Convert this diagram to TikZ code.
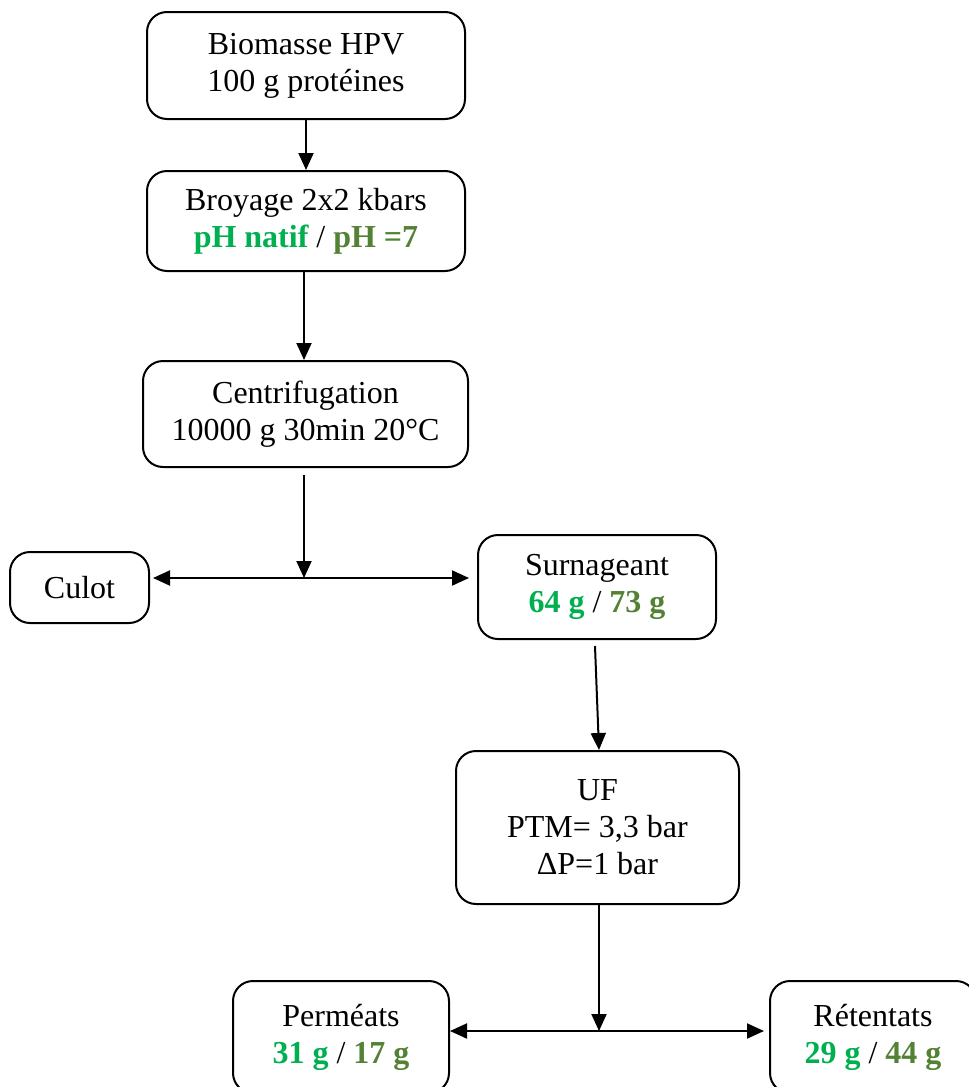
\documentclass[tikz,border=0pt]{standalone}
\usepackage{fontspec}
\setmainfont{Liberation Serif}
\usetikzlibrary{arrows.meta,calc}
\definecolor{gA}{HTML}{00B050}
\definecolor{gB}{HTML}{548235}
\newcommand{\ga}[1]{{\bfseries\color{gA}#1}}
\newcommand{\gb}[1]{{\bfseries\color{gB}#1}}
\begin{document}
\begin{tikzpicture}[x=1pt,y=-1pt,
 box/.style={draw, line width=2pt, rounded corners=20pt, align=center, inner sep=0pt, font=\fontsize{32}{37}\selectfont},
 arr/.style={line width=2pt, -{Triangle[length=17pt,width=15pt]}},
 ln/.style={line width=2pt}]
\useasboundingbox (0,0) rectangle (969,1087);
\clip (0,0) rectangle (969,1087);
\node[box, minimum width=318pt, minimum height=107pt] (bio) at (306,65.5) {Biomasse HPV\\100 g protéines};
\node[box, minimum width=318pt, minimum height=100pt] (broy) at (306,221) {Broyage 2x2 kbars\\\ga{pH natif} / \gb{pH =7}};
\node[box, minimum width=325pt, minimum height=106pt] (cent) at (305.5,414) {Centrifugation\\10000 g 30min 20°C};
\node[box, minimum width=139pt, minimum height=71pt] (culot) at (79.5,587.5) {Culot};
\node[box, minimum width=238pt, minimum height=104pt] (surn) at (597,587) {Surnageant\\\ga{64 g} / \gb{73 g}};
\node[box, minimum width=283pt, minimum height=153pt] (uf) at (597.5,827.5) {UF\\PTM= 3,3 bar\\ΔP=1 bar};
\node[box, minimum width=216pt, minimum height=112pt] (perm) at (341,1037) {Perméats\\\ga{31 g} / \gb{17 g}};
\node[box, minimum width=206pt, minimum height=112pt] (ret) at (873,1037) {Rétentats\\\ga{29 g} / \gb{44 g}};
\coordinate (j1) at (304,578);
\coordinate (j2) at (599,1031);
\draw[arr] (bio.south) -- (broy.north);
\draw[arr] (broy.south -| 304,0) -- (cent.north -| 304,0);
\draw[arr] ($(cent.south -| 304,0)+(0,7)$) -- (j1);
\draw[arr, shorten >=3pt] (j1) -- (j1 -| culot.east);
\draw[arr, shorten >=8pt] (j1) -- (j1 -| surn.west);
\draw[arr] ($(surn.south)+(-2,6)$) -- ($(uf.north)+(1.5,0)$);
\draw[arr] (uf.south -| j2) -- (j2);
\draw[arr] (j2) -- (j2 -| perm.east);
\draw[arr, shorten >=5pt] (j2) -- (j2 -| ret.west);
\end{tikzpicture}
\end{document}
